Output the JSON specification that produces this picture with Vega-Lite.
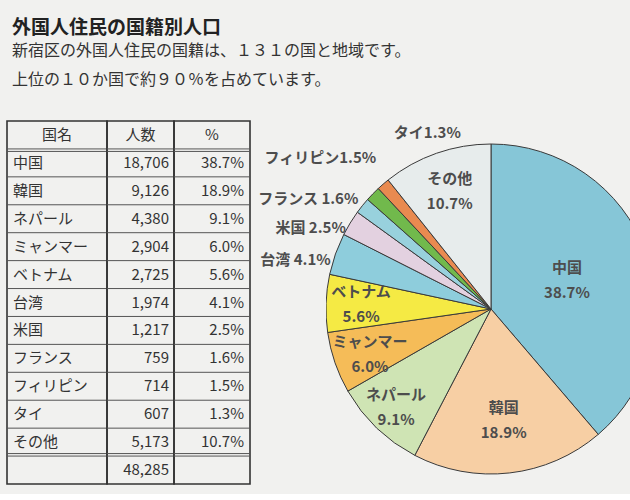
{
  "$schema": "https://vega.github.io/schema/vega-lite/v6.json",
  "background": "#f1f1ef",
  "padding": {"left": 5, "top": 18, "right": 0, "bottom": 0},
  "title": {
    "text": "外国人住民の国籍別人口",
    "subtitle": ["新宿区の外国人住民の国籍は、１３１の国と地域です。", "上位の１０か国で約９０％を占めています。"],
    "anchor": "start",
    "frame": "group",
    "dx": 5,
    "font": "Noto Sans CJK JP",
    "fontSize": 19,
    "fontWeight": "bold",
    "color": "#222222",
    "subtitleFont": "Noto Sans CJK JP",
    "subtitleFontSize": 16,
    "subtitleColor": "#333333",
    "subtitleLineHeight": 29,
    "subtitlePadding": 5,
    "offset": 7
  },
  "datasets": {
    "pop": [
      {"rank": 1, "name": "中国", "count": 18706, "pct": 0.387, "label": "中国\n38.7%"},
      {"rank": 2, "name": "韓国", "count": 9126, "pct": 0.189, "label": "韓国\n18.9%"},
      {"rank": 3, "name": "ネパール", "count": 4380, "pct": 0.091, "label": "ネパール\n9.1%"},
      {"rank": 4, "name": "ミャンマー", "count": 2904, "pct": 0.060, "label": "ミャンマー\n6.0%"},
      {"rank": 5, "name": "ベトナム", "count": 2725, "pct": 0.056, "label": "ベトナム\n5.6%"},
      {"rank": 6, "name": "台湾", "count": 1974, "pct": 0.041, "label": "台湾 4.1%"},
      {"rank": 7, "name": "米国", "count": 1217, "pct": 0.025, "label": "米国 2.5%"},
      {"rank": 8, "name": "フランス", "count": 759, "pct": 0.016, "label": "フランス 1.6%"},
      {"rank": 9, "name": "フィリピン", "count": 714, "pct": 0.015, "label": "フィリピン1.5%"},
      {"rank": 10, "name": "タイ", "count": 607, "pct": 0.013, "label": "タイ1.3%"},
      {"rank": 11, "name": "その他", "count": 5173, "pct": 0.107, "label": "その他\n10.7%"}
    ]
  },
  "config": {
    "view": {"stroke": null},
    "font": "Noto Sans CJK JP",
    "text": {"font": "Noto Sans CJK JP", "fontSize": 15, "color": "#333333"}
  },
  "hconcat": [
    {
      "hconcat": [
        {
          "width": 100,
          "height": 363,
          "view": {"stroke": "#333333", "strokeWidth": 1.6},
          "layer": [
            {
              "data": {"name": "pop"},
              "mark": {"type": "rule", "color": "#555555", "strokeWidth": 1},
              "encoding": {
                "y": {"field": "rank", "type": "ordinal", "bandPosition": 0,
                      "scale": {"domain": [0,1,2,3,4,5,6,7,8,9,10,11,12], "paddingInner": 0, "paddingOuter": 0}, "axis": null}
              }
            },
            {
              "data": {"values": [{}]},
              "mark": {"type": "rule", "color": "#555555", "strokeWidth": 1, "yOffset": 2.5},
              "encoding": {"y": {"datum": 1, "type": "ordinal", "bandPosition": 0}}
            },
            {
              "data": {"values": [{}]},
              "mark": {"type": "rule", "color": "#555555", "strokeWidth": 1},
              "encoding": {"y": {"datum": 12, "type": "ordinal", "bandPosition": 0}}
            },
            {
              "data": {"values": [{}]},
              "mark": {"type": "rule", "color": "#555555", "strokeWidth": 1, "yOffset": -2.5},
              "encoding": {"y": {"datum": 12, "type": "ordinal", "bandPosition": 0}}
            },
            {
              "data": {"values": [{}]},
              "mark": {"type": "text", "baseline": "middle"},
              "encoding": {"y": {"datum": 0, "type": "ordinal"}, "text": {"value": "国名"}}
            },
            {
              "data": {"name": "pop"},
              "mark": {"type": "text", "align": "left", "baseline": "middle"},
              "encoding": {
                "y": {"field": "rank", "type": "ordinal"},
                "x": {"value": 6},
                "text": {"field": "name"}
              }
            }
          ]
        },
        {
          "width": 67,
          "height": 363,
          "view": {"stroke": "#333333", "strokeWidth": 1.6},
          "layer": [
            {
              "data": {"name": "pop"},
              "mark": {"type": "rule", "color": "#555555", "strokeWidth": 1},
              "encoding": {
                "y": {"field": "rank", "type": "ordinal", "bandPosition": 0,
                      "scale": {"domain": [0,1,2,3,4,5,6,7,8,9,10,11,12], "paddingInner": 0, "paddingOuter": 0}, "axis": null}
              }
            },
            {
              "data": {"values": [{}]},
              "mark": {"type": "rule", "color": "#555555", "strokeWidth": 1, "yOffset": 2.5},
              "encoding": {"y": {"datum": 1, "type": "ordinal", "bandPosition": 0}}
            },
            {
              "data": {"values": [{}]},
              "mark": {"type": "rule", "color": "#555555", "strokeWidth": 1},
              "encoding": {"y": {"datum": 12, "type": "ordinal", "bandPosition": 0}}
            },
            {
              "data": {"values": [{}]},
              "mark": {"type": "rule", "color": "#555555", "strokeWidth": 1, "yOffset": -2.5},
              "encoding": {"y": {"datum": 12, "type": "ordinal", "bandPosition": 0}}
            },
            {
              "data": {"values": [{}]},
              "mark": {"type": "text", "baseline": "middle"},
              "encoding": {"y": {"datum": 0, "type": "ordinal"}, "text": {"value": "人数"}}
            },
            {
              "data": {"name": "pop"},
              "mark": {"type": "text", "align": "right", "baseline": "middle"},
              "encoding": {
                "y": {"field": "rank", "type": "ordinal"},
                "x": {"value": 62},
                "text": {"field": "count", "type": "quantitative", "format": ","}
              }
            },
            {
              "data": {"name": "pop"},
              "mark": {"type": "text", "align": "right", "baseline": "middle"},
              "encoding": {
                "y": {"datum": 12, "type": "ordinal"},
                "x": {"value": 62},
                "text": {"aggregate": "sum", "field": "count", "type": "quantitative", "format": ","}
              }
            }
          ]
        },
        {
          "width": 76,
          "height": 363,
          "view": {"stroke": "#333333", "strokeWidth": 1.6},
          "layer": [
            {
              "data": {"name": "pop"},
              "mark": {"type": "rule", "color": "#555555", "strokeWidth": 1},
              "encoding": {
                "y": {"field": "rank", "type": "ordinal", "bandPosition": 0,
                      "scale": {"domain": [0,1,2,3,4,5,6,7,8,9,10,11,12], "paddingInner": 0, "paddingOuter": 0}, "axis": null}
              }
            },
            {
              "data": {"values": [{}]},
              "mark": {"type": "rule", "color": "#555555", "strokeWidth": 1, "yOffset": 2.5},
              "encoding": {"y": {"datum": 1, "type": "ordinal", "bandPosition": 0}}
            },
            {
              "data": {"values": [{}]},
              "mark": {"type": "rule", "color": "#555555", "strokeWidth": 1},
              "encoding": {"y": {"datum": 12, "type": "ordinal", "bandPosition": 0}}
            },
            {
              "data": {"values": [{}]},
              "mark": {"type": "rule", "color": "#555555", "strokeWidth": 1, "yOffset": -2.5},
              "encoding": {"y": {"datum": 12, "type": "ordinal", "bandPosition": 0}}
            },
            {
              "data": {"values": [{}]},
              "mark": {"type": "text", "baseline": "middle"},
              "encoding": {"y": {"datum": 0, "type": "ordinal"}, "text": {"value": "%"}}
            },
            {
              "data": {"name": "pop"},
              "mark": {"type": "text", "align": "right", "baseline": "middle"},
              "encoding": {
                "y": {"field": "rank", "type": "ordinal"},
                "x": {"value": 70},
                "text": {"field": "pct", "type": "quantitative", "format": ".1%"}
              }
            }
          ]
        }
      ],
      "spacing": 0,
      "bounds": "flush"
    },
    {
      "width": 305,
      "height": 363,
      "data": {"name": "pop"},
      "encoding": {
        "theta": {"field": "count", "type": "quantitative", "stack": true},
        "order": {"field": "rank", "type": "quantitative"},
        "detail": {"field": "name"},
        "x": {"value": 165},
        "y": {"value": 188}
      },
      "layer": [
        {
          "mark": {"type": "arc", "outerRadius": 165, "stroke": "#3a3a3a", "strokeWidth": 1, "clip": true},
          "encoding": {
            "color": {
              "field": "name",
              "type": "nominal",
              "legend": null,
              "scale": {
                "domain": ["中国", "韓国", "ネパール", "ミャンマー", "ベトナム", "台湾", "米国", "フランス", "フィリピン", "タイ", "その他"],
                "range": ["#86c6d7", "#f7cfa4", "#cfe4b4", "#f5bc58", "#f5ea44", "#8ecddc", "#e3d1e0", "#98d1dd", "#71b94c", "#e98a50", "#e7ecec"]
              }
            }
          }
        },
        {
          "mark": {"type": "text", "radius": 81, "dy": -12.5, "lineBreak": "\n", "lineHeight": 25, "fontWeight": "bold", "fontSize": 15, "color": "#4d4d4d", "baseline": "middle"},
          "encoding": {"text": {"condition": {"test": "datum.rank == 1", "field": "label"}, "value": ""}}
        },
        {
          "mark": {"type": "text", "radius": 112, "dy": -12.5, "lineBreak": "\n", "lineHeight": 25, "fontWeight": "bold", "fontSize": 15, "color": "#4d4d4d", "baseline": "middle"},
          "encoding": {"text": {"condition": {"test": "datum.rank == 2", "field": "label"}, "value": ""}}
        },
        {
          "mark": {"type": "text", "radius": 137, "dy": -12.5, "lineBreak": "\n", "lineHeight": 25, "fontWeight": "bold", "fontSize": 15, "color": "#4d4d4d", "baseline": "middle"},
          "encoding": {"text": {"condition": {"test": "datum.rank == 3", "field": "label"}, "value": ""}}
        },
        {
          "mark": {"type": "text", "radius": 128, "dy": -9, "lineBreak": "\n", "lineHeight": 25, "fontWeight": "bold", "fontSize": 15, "color": "#4d4d4d", "baseline": "middle"},
          "encoding": {"text": {"condition": {"test": "datum.rank == 4", "field": "label"}, "value": ""}}
        },
        {
          "mark": {"type": "text", "radius": 130, "dy": -12.5, "lineBreak": "\n", "lineHeight": 25, "fontWeight": "bold", "fontSize": 15, "color": "#4d4d4d", "baseline": "middle"},
          "encoding": {"text": {"condition": {"test": "datum.rank == 5", "field": "label"}, "value": ""}}
        },
        {
          "mark": {"type": "text", "radius": 125, "dy": -12.5, "lineBreak": "\n", "lineHeight": 25, "fontWeight": "bold", "fontSize": 15, "color": "#4d4d4d", "baseline": "middle"},
          "encoding": {"text": {"condition": {"test": "datum.rank == 11", "field": "label"}, "value": ""}}
        },
        {
          "mark": {"type": "text", "radius": 170, "align": "right", "dy": 8, "fontWeight": "bold", "fontSize": 15, "color": "#4d4d4d", "baseline": "middle"},
          "encoding": {"text": {"condition": {"test": "datum.rank == 6 || datum.rank == 7", "field": "label"}, "value": ""}}
        },
        {
          "mark": {"type": "text", "radius": 170, "align": "right", "dy": -4, "fontWeight": "bold", "fontSize": 15, "color": "#4d4d4d", "baseline": "middle"},
          "encoding": {"text": {"condition": {"test": "datum.rank == 8", "field": "label"}, "value": ""}}
        },
        {
          "mark": {"type": "text", "radius": 170, "align": "right", "dx": 7, "dy": -32, "fontWeight": "bold", "fontSize": 15, "color": "#4d4d4d", "baseline": "middle"},
          "encoding": {"text": {"condition": {"test": "datum.rank == 9", "field": "label"}, "value": ""}}
        },
        {
          "mark": {"type": "text", "radius": 170, "align": "left", "dx": 14, "dy": -47, "fontWeight": "bold", "fontSize": 15, "color": "#4d4d4d", "baseline": "middle"},
          "encoding": {"text": {"condition": {"test": "datum.rank == 10", "field": "label"}, "value": ""}}
        }
      ]
    }
  ],
  "spacing": 5
}
